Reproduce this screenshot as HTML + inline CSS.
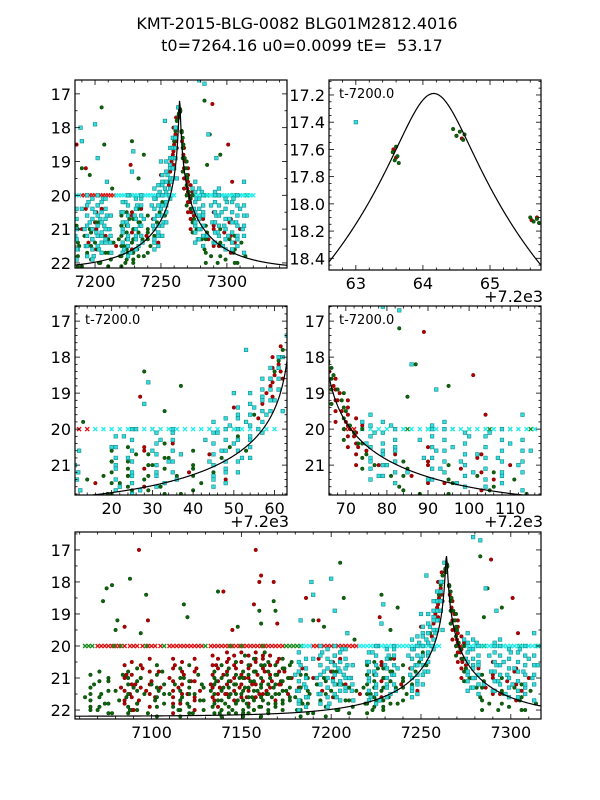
<!DOCTYPE html>
<html><head><meta charset="utf-8"><style>
html,body{margin:0;padding:0;background:#fff;}
svg{display:block;font-family:"DejaVu Sans","Liberation Sans",sans-serif;}
</style></head><body>
<svg id="fig" width="600" height="800" viewBox="0 0 600 800" xmlns="http://www.w3.org/2000/svg">
<rect width="600" height="800" fill="#fff"/>
<text x="297" y="29" text-anchor="middle" font-size="16">KMT-2015-BLG-0082 BLG01M2812.4016</text>
<text x="302" y="51" text-anchor="middle" font-size="16" xml:space="preserve">t0=7264.16 u0=0.0099 tE=  53.17</text>
</svg>
<script>
// model parameters
const modelT0 = 7264.16, modelU0 = 0.0099, modelTE = 53.17, baseMag = 22.2;

const greenPts = [[7063,21.6],[7066,21.9],[7068,21.2],[7070,22.0],[7072,21.5],[7074,21.8],[7076,21.1],[7078,22.1],[7080,21.4],[7082,21.7],[7084,20.9],[7086,21.6],[7088,22.0],[7090,21.3],[7092,21.8],[7094,21.0],[7096,21.5],[7098,22.1],[7100,21.2],[7102,21.7],[7104,21.4],[7106,20.8],
[7073,18.6],[7075,18.2],[7078,18.1],[7080,19.5],[7088,17.9],[7081,19.2],[7097,18.4],[7094,19.6],
[7110,21.5],[7112,21.9],[7113,21.2],[7115,22.0],[7117,21.6],[7118,21.0],[7120,21.8],[7121,21.3],[7123,22.1],[7124,21.5],[7126,20.9],[7127,21.7],[7128,21.2],[7118,18.7],[7120,19.1],
[7133,21.4],[7134,21.9],[7136,21.1],[7137,21.7],[7138,22.1],[7140,21.3],[7141,21.8],[7142,20.9],[7144,21.5],[7145,22.0],[7146,21.2],[7148,21.7],[7149,21.0],[7150,21.5],[7151,22.1],[7152,21.3],[7153,21.8],[7155,21.1],[7156,21.6],[7157,22.0],[7158,20.8],[7159,21.4],[7160,21.9],[7161,21.2],[7162,21.7],[7163,20.6],[7164,21.5],[7165,22.1],[7166,21.0],[7167,21.6],[7168,21.3],[7169,21.9],[7170,20.9],[7171,21.5],[7172,21.1],[7173,21.8],[7174,20.7],[7175,21.4],[7176,21.0],[7177,21.7],[7178,20.5],
[7137,18.3],[7148,19.4],[7160,18.9],[7161,19.3],[7168,18.6],[7169,18.9],[7163,20.2],[7152,20.3],
[7180,21.6],[7181,22.0],[7183,21.3],[7184,21.8],[7186,20.9],[7188,21.5],[7190,22.1],[7192,21.2],[7194,21.7],[7196,21.0],[7198,21.9],[7200,21.4],[7201,20.8],[7202,21.6],[7204,22.0],[7206,21.2],[7208,21.7],[7210,21.0],[7212,21.9],[7214,21.4],
[7190,19.2],[7205,17.4],[7207,18.5],[7196,19.4],[7213,19.8],
[7218,21.3],[7219,21.8],[7220,20.9],[7222,21.5],[7223,22.0],[7224,21.1],[7225,21.7],[7226,20.7],[7228,21.4],[7229,21.9],[7230,21.0],[7232,21.6],[7234,20.8],[7236,21.3],[7237,21.8],[7240,21.1],[7242,21.5],
[7228,18.4],[7233,19.5],[7237,18.8],
[7245,21.2],[7247,20.8],[7249,20.5],[7251,20.2],[7253,20.6],[7255,19.6],[7257,19.1],[7259,18.6],[7260,18.4],[7261,18.1],[7262,17.8],
[7263.55,17.62],[7263.58,17.68],[7263.6,17.58],[7263.62,17.65],[7263.64,17.7],[7264.45,17.45],[7264.5,17.5],[7264.55,17.47],[7264.6,17.53],[7264.62,17.49],[7265.6,18.1],[7265.65,18.13],[7265.7,18.11],[7265.73,18.14],
[7267,18.5],[7268,18.9],[7269,19.2],[7270,19.5],[7271,19.9],[7272,20.1],[7273,20.4],[7275,20.7],[7277,21.0],[7279,20.6],[7281,21.3],[7283,21.6],[7285,21.1],[7288,21.8],[7290,21.4],[7293,22.0],[7296,21.5],[7299,21.9],[7302,21.3],[7305,21.7],[7308,22.0],[7311,21.4],[7314,21.8],
[7283,17.2],[7287,18.2],[7285,19.1],[7295,18.8]];

const redPts = [[7083,21.3],[7085,21.8],[7086,20.9],[7088,21.5],[7090,22.0],[7091,21.2],[7093,21.7],[7095,20.7],[7097,21.4],[7099,21.9],[7100,21.1],[7102,21.6],[7104,20.8],[7105,21.3],[7085,19.4],[7093,17.0],[7098,19.2],
[7110,21.0],[7112,21.6],[7113,20.6],[7115,21.3],[7116,21.8],[7118,20.9],[7120,21.5],[7122,21.1],[7124,21.7],[7125,20.7],[7127,21.4],
[7133,21.2],[7135,21.7],[7136,20.6],[7138,21.3],[7140,20.9],[7141,21.5],[7143,20.4],[7144,21.1],[7146,21.7],[7147,20.7],[7149,21.3],[7150,20.5],[7152,21.0],[7153,21.6],[7155,20.6],[7156,21.2],[7158,20.4],[7159,20.9],[7160,21.5],[7162,20.3],[7163,20.8],[7164,21.4],[7166,20.6],[7167,21.1],[7169,21.7],[7170,20.5],[7172,21.2],[7174,20.8],[7176,21.5],[7178,21.0],
[7140,18.3],[7145,19.5],[7157,18.7],[7160,18.0],[7161,17.8],[7158,17.0],[7168,18.0],[7170,19.3],
[7182,21.3],[7184,20.7],[7186,21.6],[7190,21.0],[7193,20.4],[7195,21.4],[7200,20.8],[7203,21.6],[7205,20.4],[7208,21.2],[7212,20.6],[7216,21.5],[7220,20.9],[7224,21.3],[7228,20.5],[7231,21.0],[7235,20.4],[7239,21.2],[7244,20.7],[7248,21.4],
[7186,18.5],[7193,19.2],[7227,19.1],[7250,19.4],
[7256,19.7],[7257,19.3],[7258,19.0],[7259,18.8],[7260,18.5],[7261,18.2],[7262,18.6],[7263.56,17.6],[7263.6,17.66],[7264.5,17.5],[7264.58,17.52],[7265.62,18.12],[7265.7,18.1],
[7266,18.4],[7267,18.8],[7268,19.2],[7268.5,19.0],[7269,19.5],[7270,19.8],[7270.5,19.4],[7271,20.0],[7272,20.2],[7273,20.5],[7274,19.9],[7275,20.6],[7278,21.0],[7282,20.7],[7286,21.3],[7290,20.9],[7294,21.5],[7298,21.1],[7302,20.8],[7306,21.4],[7310,21.0],
[7289,17.3],[7301,18.5],[7304,19.6]];

const cyanPts = [[7211,21.0],[7211.5,21.4],[7212,20.6],[7212.3,21.7],[7211.8,21.2],
[7180,20.9],[7181,21.4],[7182,21.8],[7183,20.6],[7185,21.2],[7187,21.6],[7190,20.4],[7192,21.0],[7193,21.5],[7195,20.2],[7196,20.8],[7198,21.3],[7199,21.8],[7200,20.5],[7201,21.1],[7202,20.3],[7203,21.6],[7204,20.7],[7205,21.2],[7206,20.1],[7207,20.9],[7208,21.4],[7209,20.6],[7210,21.0],
[7183,19.2],[7189,18.0],[7190,18.4],[7200,17.9],[7202,18.9],[7209,19.6],
[7220,20.5],[7221,21.0],[7222,21.6],[7223,20.2],[7224,20.8],[7225,21.3],[7226,20.0],[7227,21.7],[7230,20.6],[7231,21.2],[7232,20.3],[7233,21.5],[7234,20.9],[7235,20.1],[7236,21.4],[7237,20.7],[7228,19.3],[7229,18.7],
[7243,20.3],[7244,20.9],[7245,21.4],[7246,20.1],[7247,20.6],[7248,21.1],[7249,19.9],[7250,20.4],[7251,19.6],[7252,20.8],[7253,19.8],[7254,20.3],[7255,19.4],[7256,20.0],[7257,19.1],[7258,19.6],[7259,18.6],[7260,19.2],[7261,18.9],[7262,19.5],[7253,17.8],[7250,19.0],[7262,18.0],[7263,17.4],
[7274,19.8],[7275,20.4],[7276,20.9],[7277,20.1],[7278,21.3],[7279,20.6],[7280,21.0],[7281,19.9],[7282,20.5],[7285,21.2],[7288,20.3],[7289,20.8],[7290,21.4],[7291,20.0],[7292,20.6],[7293,21.1],[7294,19.8],[7296,20.5],[7297,21.5],[7298,20.9],[7300,20.2],[7301,21.2],[7302,20.7],[7304,21.6],[7305,20.1],[7307,20.8],[7308,21.3],[7310,20.4],[7312,21.0],[7313,21.7],[7315,20.6],
[7279,16.6],[7283,16.7],[7313,19.6],[7286,18.2],[7292,18.9]];

// nightly streaks: observation time and the magnitudes measured that night
const greenNights = [[7066,"20.9 21.3 21.7 22.0 21.5"],[7071,"21.1 21.6 21.9 20.8"],[7076,"21.4 21.8 21.0 22.1"],[7087,"20.8 21.2 21.5 21.9 22.1 21.0"],[7092,"21.1 21.4 21.8 20.7 22.0"],[7103,"20.9 21.3 21.6 21.9 22.2 20.6"],[7107,"21.2 21.5 21.8"],[7116,"20.7 21.0 21.4 21.7 22.0 22.2"],[7121,"20.6 21.1 21.5 21.9 22.1"],[7129,"21.3 21.7 22.0"],[7135,"20.8 21.2 21.5 21.8 22.1 21.0"],[7139,"20.6 21.0 21.4 21.7 22.0 22.2"],[7143,"20.7 21.1 21.3 21.6 21.9 22.1"],[7147,"20.5 20.9 21.2 21.5 21.8 22.1"],[7151,"20.8 21.0 21.4 21.7 22.0 22.2"],[7154,"20.6 20.9 21.3 21.6 21.9 22.1"],[7157,"20.4 20.8 21.1 21.4 21.7 22.0"],[7161,"20.6 21.0 21.3 21.6 21.9 22.2"],[7165,"20.5 20.8 21.2 21.5 21.8 22.0"],[7169,"20.6 20.9 21.2 21.5 21.8"],[7173,"20.4 20.7 21.1 21.4 21.7 22.0"],[7177,"20.6 21.0 21.3 21.6"],[7183,"20.9 21.3 21.7 22.0 22.2"],[7187,"21.0 21.4 21.8 22.1"],[7197,"21.1 21.5 21.9 22.2"],[7203,"20.8 21.2 21.6 22.0"],[7210,"21.0 21.3 21.7 22.1"],[7220,"20.6 20.9 21.2 21.5 21.8 22.1"],[7224,"20.5 20.9 21.3 21.6 21.9"],[7229,"20.7 21.0 21.3 21.7 22.0"],[7233,"20.4 20.8 21.1 21.5 21.8"],[7240,"20.6 21.0 21.3 21.7"],[7266.5,"18.3 18.6 18.9 19.3"],[7269.5,"19.0 19.4 19.7 20.0 20.3"],[7274,"20.0 20.4 20.8 21.1"],[7284,"20.9 21.3 21.7 22.0"],[7295,"21.0 21.4 21.8"],[7306,"21.2 21.6 22.0"]];
const redNights = [[7085,"20.6 21.0 21.4 21.7"],[7089,"20.5 20.9 21.2 21.6 22.0"],[7094,"20.6 21.0 21.3"],[7099,"20.4 20.8 21.2 21.5"],[7112,"20.4 20.7 21.1 21.4 21.8 22.1"],[7117,"20.5 20.8 21.2 21.5"],[7124,"20.4 20.8 21.1 21.6 22.0"],[7134,"20.3 20.6 20.9 21.3 21.6"],[7137,"20.4 20.7 21.1 21.5 21.9"],[7142,"20.2 20.5 20.8 21.2 21.5"],[7146,"20.3 20.6 21.0 21.4"],[7150,"20.2 20.5 20.9 21.2 21.6"],[7154,"20.3 20.7 21.0 21.4 21.8"],[7158,"20.2 20.5 20.8 21.2 21.6"],[7162,"20.4 20.7 21.1 21.5"],[7166,"20.3 20.6 20.9 21.3"],[7171,"20.4 20.8 21.2"],[7201,"20.5 21.0 21.6"],[7228,"20.6 21.1 21.6"],[7259.5,"18.0 18.3 18.7 19.1"],[7261.5,"17.7 18.0 18.4"],[7267.5,"18.6 18.9 19.2 19.5 19.8"],[7270.5,"19.2 19.6 19.9 20.2 20.5"],[7272.5,"19.7 20.1 20.4 20.7 21.0"],[7290,"20.5 21.0 21.5"],[7303,"20.7 21.2 21.7"]];
const cyanNights = [[7182,"20.2 20.5 20.8 21.1 21.4 21.7 22.0"],[7186,"20.4 20.7 21.0 21.3 21.6 21.9"],[7194,"20.0 20.3 20.6 20.9 21.2 21.5 21.8"],[7198,"20.1 20.4 20.7 21.0 21.3 21.6 21.9"],[7202,"20.0 20.3 20.6 20.9 21.2 21.5"],[7205,"20.2 20.5 20.8 21.1 21.4 21.7"],[7208,"20.1 20.4 20.7 21.0 21.3"],[7221,"20.2 20.5 20.8 21.1 21.4 21.7"],[7225,"20.0 20.3 20.6 20.9 21.2 21.5 21.8"],[7231,"20.1 20.4 20.7 21.0 21.3 21.6"],[7235,"20.0 20.3 20.6 20.9 21.2"],[7245,"19.8 20.1 20.4 20.7 21.0 21.3 21.6"],[7248,"19.7 20.0 20.3 20.6 20.9 21.2 21.5"],[7251,"19.4 19.7 20.0 20.3 20.6 20.9 21.2"],[7254,"19.0 19.3 19.6 19.9 20.2 20.5 20.8"],[7257,"18.6 18.9 19.2 19.5 19.8 20.1"],[7259,"18.3 18.6 18.9 19.2 19.5"],[7261,"18.0 18.3 18.6 18.9"],[7276,"19.6 19.9 20.2 20.5 20.8 21.1 21.4"],[7279,"19.8 20.1 20.4 20.7 21.0 21.3"],[7282,"20.0 20.3 20.6 20.9 21.2 21.5"],[7291,"19.9 20.2 20.5 20.8 21.1 21.4"],[7294,"20.0 20.3 20.6 20.9 21.2"],[7299,"20.1 20.4 20.7 21.0 21.3 21.6"],[7304,"20.2 20.5 20.8 21.1 21.4"],[7308,"20.0 20.3 20.6 20.9 21.2 21.5"],[7313,"20.3 20.6 20.9 21.2"]];

const flagMag = 20.0;
const redFlagT = [7070,7072,7074,7076,7078,7080,7082,7085,7088,7090,7092,7095,7098,7100,7102,7105,7110,7112,7114,7116,7118,7120,7122,7124,7126,7128,7133,7135,7137,7139,7141,7143,7145,7147,7149,7151,7153,7155,7157,7159,7161,7163,7165,7167,7169,7171,7173,7190,7192,7194,7196,7198,7200,7202,7204,7206,7208,7210,7212,7214,7270,7272];
const greenFlagT = [7063,7065,7067,7079,7083,7097,7107,7130,7144,7150,7162,7175,7177,7179,7181,7183,7230,7250,7285,7290,7296,7300,7305,7310,7315];
const cyanFlagT = [7184,7186,7188,7216,7218,7220,7222,7224,7226,7228,7230,7232,7234,7236,7238,7240,7242,7244,7246,7248,7250,7252,7254,7256,7258,7260,7274,7276,7278,7280,7282,7284,7286,7288,7290,7292,7294,7296,7298,7300,7302,7304,7306,7308,7310,7312,7314,7316,7318,7320];

const panel1XTicks = [7200,7250,7300], panel1YTicks = [17,18,19,20,21,22];
const panel2XTicks = [63,64,65], panel2YTicks = [17.2,17.4,17.6,17.8,18.0,18.2,18.4];
const panel3XTicks = [20,30,40,50,60], panel3YTicks = [17,18,19,20,21];
const panel4XTicks = [70,80,90,100,110], panel4YTicks = [17,18,19,20,21];
const panel5XTicks = [7100,7150,7200,7250,7300], panel5YTicks = [17,18,19,20,21,22];

const NS = 'http://www.w3.org/2000/svg';
const svg = document.getElementById('fig');
function mk(tag, attrs, parent){ const e=document.createElementNS(NS,tag); for(const k in attrs) e.setAttribute(k,attrs[k]); (parent||svg).appendChild(e); return e; }
function expand(pts, nights){ const out=pts.slice(); nights.forEach(n=>{ n[1].split(' ').forEach(s=>out.push([n[0],parseFloat(s)])); }); return out; }
const allGreen = expand(greenPts, greenNights);
const allRed = expand(redPts, redNights);
const allCyan = expand(cyanPts, cyanNights);

function modelMag(t){ const tau=(t-modelT0)/modelTE; const u=Math.sqrt(modelU0*modelU0+tau*tau); const A=(u*u+2)/(u*Math.sqrt(u*u+4)); return baseMag-2.5*Math.log10(A); }

const panels = [
 {id:'panel-top-left',x0:75,x1:287,y0:80,y1:268,t0:7184.8,t1:7345.6,m0:16.59,m1:22.15,off:0,xt:panel1XTicks,yt:panel1YTicks,xmin:10,ymin:0.5,yfmt:0,label:false},
 {id:'panel-top-right',x0:329,x1:541,y0:80,y1:270,t0:62.6,t1:65.76,m0:17.09,m1:18.486,off:7200,xt:panel2XTicks,yt:panel2YTicks,xmin:0.2,ymin:0.05,yfmt:1,label:true},
 {id:'panel-mid-left',x0:75,x1:287,y0:306,y1:495,t0:11.0,t1:63.05,m0:16.58,m1:21.83,off:7200,xt:panel3XTicks,yt:panel3YTicks,xmin:2,ymin:0.2,yfmt:0,label:true},
 {id:'panel-mid-right',x0:329,x1:541,y0:306,y1:495,t0:65.9,t1:117.5,m0:16.58,m1:21.83,off:7200,xt:panel4XTicks,yt:panel4YTicks,xmin:2,ymin:0.2,yfmt:0,label:true},
 {id:'panel-bottom',x0:75,x1:541,y0:532,y1:719,t0:7057.4,t1:7316.8,m0:16.44,m1:22.28,off:0,xt:panel5XTicks,yt:panel5YTicks,xmin:10,ymin:0.5,yfmt:0,label:false}
];

panels.forEach((p,pi)=>{
  const sx = t => p.x0 + (t - p.off - p.t0)/(p.t1-p.t0)*(p.x1-p.x0);
  const sy = m => p.y0 + (m - p.m0)/(p.m1-p.m0)*(p.y1-p.y0);
  const g = mk('g',{});
  
  
  mk('rect',{x:p.x0,y:p.y0,width:p.x1-p.x0,height:p.y1-p.y0,fill:'#fff'},g);
  const cp = mk('clipPath',{id:'clip'+pi},g);
  mk('rect',{x:p.x0,y:p.y0,width:p.x1-p.x0,height:p.y1-p.y0},cp);
  const data = mk('g',{'clip-path':'url(#clip'+pi+')'},g);
  function flags(arr,color,name){
    arr.forEach(t=>{
      const x=sx(t), y=sy(flagMag);
      const e=mk('path',{d:`M${x-2},${y-2}L${x+2},${y+2}M${x-2},${y+2}L${x+2},${y-2}`,stroke:color,'stroke-width':1.3,fill:'none'},data);
      
      
    });
  }
  flags(redFlagT,'#dd1111','red-flag-point');
  flags(greenFlagT,'#1a8a1a','green-flag-point');
  flags(cyanFlagT,'#22eeee','cyan-flag-point');
  allRed.forEach(d=>{
    const e=mk('circle',{cx:sx(d[0]),cy:sy(d[1]),r:1.8,fill:'#b00000',stroke:'#7a0000','stroke-width':0.5},data);
    
    
  });
  allGreen.forEach(d=>{
    const e=mk('circle',{cx:sx(d[0]),cy:sy(d[1]),r:1.8,fill:'#0c640c',stroke:'#064006','stroke-width':0.5},data);
    
    
  });
  allCyan.forEach(d=>{
    const e=mk('rect',{x:sx(d[0])-1.8,y:sy(d[1])-1.8,width:3.6,height:3.6,fill:'#33dddd',stroke:'#138c8c','stroke-width':0.6},data);
    
    
  });
  let d='';
  for(let x=p.x0;x<=p.x1;x+=0.5){
    const t=p.t0+(x-p.x0)/(p.x1-p.x0)*(p.t1-p.t0)+p.off;
    d+=(d?'L':'M')+x.toFixed(2)+','+sy(modelMag(t)).toFixed(2);
  }
  const c=mk('path',{d:d,fill:'none',stroke:'#000','stroke-width':1.2},data);
  
  
  mk('rect',{x:p.x0,y:p.y0,width:p.x1-p.x0,height:p.y1-p.y0,fill:'none',stroke:'#000','stroke-width':1.2},g);
  const tk = mk('g',{stroke:'#000','stroke-width':0.8},g);
  const xa = Math.floor(p.t0/p.xmin)*p.xmin;
  for(let v=xa; v<=p.t1+1e-9; v+=p.xmin){
    if(v<p.t0) continue;
    const x=sx(v+p.off), major=p.xt.some(q=>Math.abs(q-v)<1e-6);
    const L=major?5:2.5;
    mk('line',{x1:x,y1:p.y1,x2:x,y2:p.y1-L},tk); mk('line',{x1:x,y1:p.y0,x2:x,y2:p.y0+L},tk);
  }
  const ya = Math.ceil(p.m0/p.ymin)*p.ymin;
  for(let v=ya; v<=p.m1+1e-9; v+=p.ymin){
    const y=sy(v), major=p.yt.some(q=>Math.abs(q-v)<1e-6);
    const L=major?5:2.5;
    mk('line',{x1:p.x0,y1:y,x2:p.x0+L,y2:y},tk); mk('line',{x1:p.x1,y1:y,x2:p.x1-L,y2:y},tk);
  }
  p.xt.forEach(v=>{
    const e=mk('text',{x:sx(v+p.off),y:p.y1+19,'text-anchor':'middle','font-size':16},g);
    e.textContent=String(v);
    
    
  });
  p.yt.forEach(v=>{
    const e=mk('text',{x:p.x0-4,y:sy(v)+6,'text-anchor':'end','font-size':16},g);
    e.textContent=v.toFixed(p.yfmt);
    
    
  });
  if(p.label){
    const e=mk('text',{x:p.x0+10,y:p.y0+18,'font-size':13},g);
    e.textContent='t-7200.0';
    
    
    const o=mk('text',{x:p.x1+2,y:p.y1+32,'text-anchor':'end','font-size':16},g);
    o.textContent='+7.2e3';
    
    
  }
});
</script>
</body></html>
